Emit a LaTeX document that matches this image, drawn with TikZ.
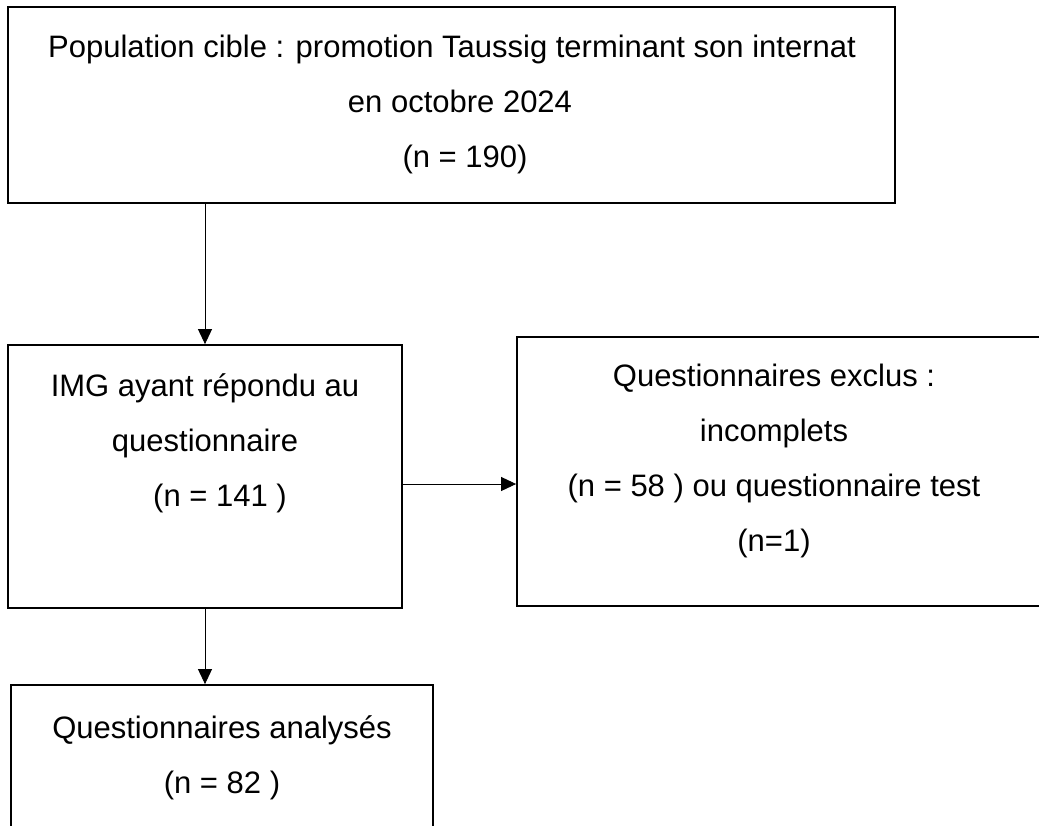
\documentclass[tikz,border=0pt]{standalone}
\usepackage{fontspec}
\setmainfont{Liberation Sans}
\usetikzlibrary{arrows.meta}
\begin{document}
\begin{tikzpicture}[x=1pt,y=-1pt,
    box/.style={draw,line width=1.8pt,inner sep=0pt},
    txt/.style={align=center,inner sep=0pt,font=\fontsize{31}{55}\selectfont},
    arr/.style={-{Triangle[length=15pt,width=14pt]},line width=0.9pt}]
    \useasboundingbox (0,0) rectangle (1039,825);
    %%% boxes
    \node[box,minimum width=887pt,minimum height=196pt] (pop) at (451.5,105) {};
    \node[box,minimum width=394pt,minimum height=263pt] (rep) at (205,476.5) {};
    \node[box,minimum width=533pt,minimum height=269pt] (excl) at (783.5,471.5) {};
    \node[box,minimum width=422pt,minimum height=190pt] (ana) at (222,780) {};
    %%% texts
    \node[txt] (tpop) at (452,104) {Population cible : promotion Taussig terminant son internat\\\hspace*{16pt}en octobre 2024\\\hspace*{26pt}(n = 190)};
    \node[txt] (trep) at (205,443) {IMG ayant répondu au\\questionnaire\\\hspace*{30pt}(n = 141 )};
    \node[txt] (texcl) at (774,461) {Questionnaires exclus :\\incomplets\\(n = 58 ) ou questionnaire test\\(n=1)};
    \node[txt] (tana) at (222,758) {Questionnaires analysés\\(n = 82 )};
    %%% arrows
    \draw[arr] (rep.north |- pop.south) -- (rep.north);
    \draw[arr] ([yshift=-7.5pt]rep.east) -- ([yshift=-7.5pt]rep.east -| excl.west);
    \draw[arr] (rep.south) -- (rep.south |- ana.north);
\end{tikzpicture}
\end{document}
